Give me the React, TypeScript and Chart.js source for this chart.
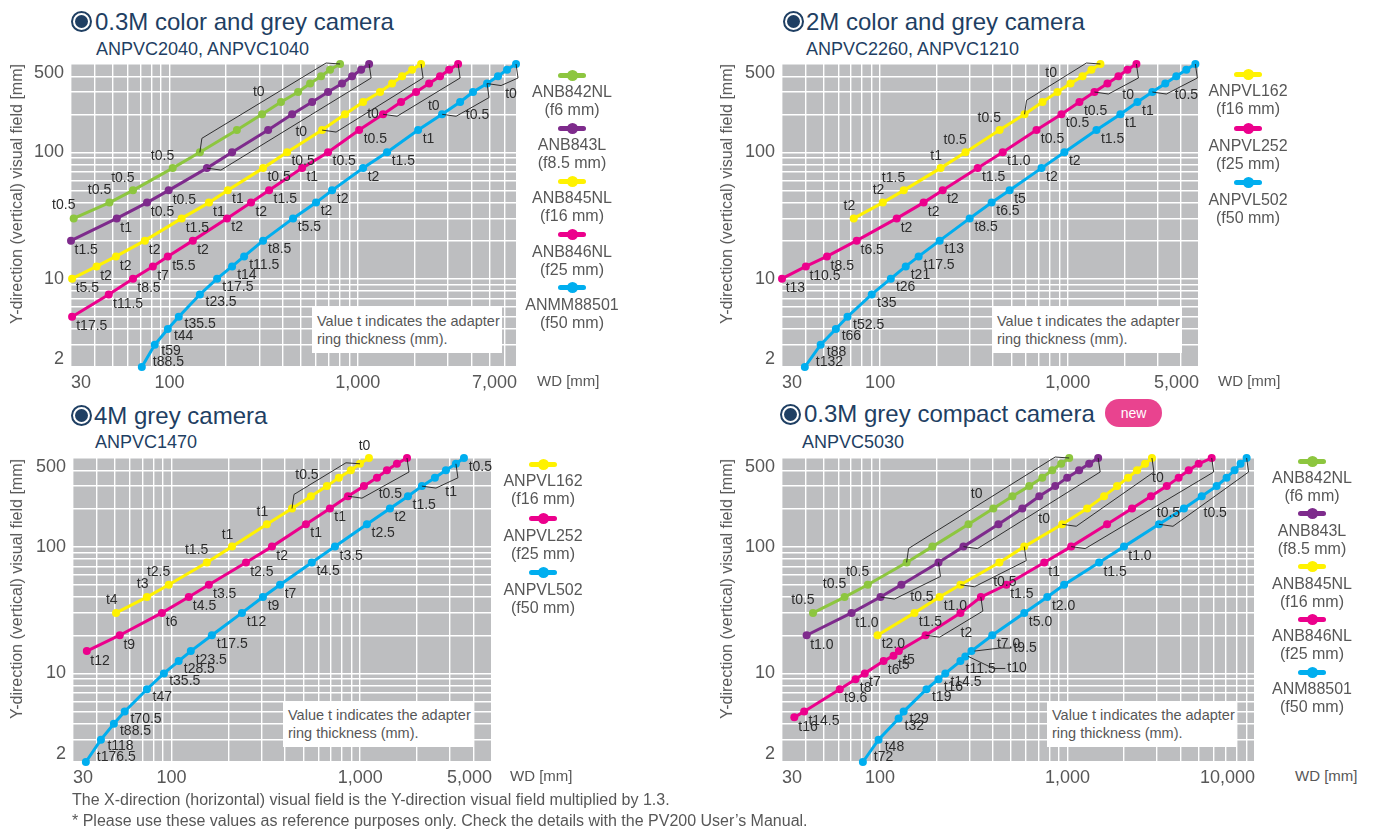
import React, { useEffect, useRef } from "react";
import { Chart, registerables } from "chart.js";

Chart.register(...registerables);

const FONT = "'Liberation Sans', Arial, Helvetica, sans-serif";
const NAVY = "#1f3f63";
const GREYTXT = "#575757";
const LABEL = "#2c2c2c";
const PLOT_BG = "#bdbec0";

const GREEN = "#8dc63f";
const PURPLE = "#7e2b8c";
const YELLOW = "#fff200";
const PINK = "#ec008c";
const BLUE = "#00aeef";

// ---------- shared y axis ----------
const Y_MIN = 2;
const Y_MAX = 500;
const Y_TICK_VALUES = [500, 100, 10, 2];
const Y_TICK_TEXT = ["500", "100", "10", "2"];

// ---------- Panel 1 : 0.3M color and grey camera ----------
const P1_X_TICK_VALUES = [30, 100, 1000, 7000];
const P1_X_TICK_TEXT = ["30", "100", "1,000", "7,000"];
const P1_GREEN_WD = [31, 48, 64, 104, 145, 228, 310, 391, 482, 558, 638, 712, 805];
const P1_GREEN_F = [30, 40, 50, 75, 100, 150, 200, 250, 300, 350, 400, 450, 500];
const P1_GREEN_T = ["t0.5", "t0.5", "t0.5", "t0.5"];
const P1_PURPLE_WD = [30, 52.5, 76, 99, 158, 215, 334, 448, 572, 695, 824, 932, 1041, 1148];
const P1_PURPLE_F = [20, 30, 40, 50, 75, 100, 150, 200, 250, 300, 350, 400, 450, 500];
const P1_PURPLE_T = ["t1.5", "t1", "t0.5", "t0.5"];
const P1_YELLOW_WD = [30.4, 41, 52, 74, 116, 162, 204, 314, 421, 646, 855, 1067, 1312, 1519, 1717, 1941, 2167];
const P1_YELLOW_F = [10, 12.5, 15, 20, 30, 40, 50, 75, 100, 150, 200, 250, 300, 350, 400, 450, 500];
const P1_YELLOW_T = ["t5.5", "t2", "t2", "t2", "t1.5", "t1", "t1", "t0.5", "t0.5"];
const P1_PINK_WD = [30.4, 47.6, 64, 81.6, 98, 133, 202, 271, 338, 506, 695, 1016, 1361, 1696, 2038, 2390, 2733, 3052, 3407];
const P1_PINK_F = [5, 7.5, 10, 12.5, 15, 20, 30, 40, 50, 75, 100, 150, 200, 250, 300, 350, 400, 450, 500];
const P1_PINK_T = ["t17.5", "t11.5", "t8.5", "t7", "t5.5", "t2", "t2", "t2", "t1.5", "t1", "t0.5", "t0.5"];
const P1_BLUE_WD = [71.3, 83.5, 98, 112, 145, 179, 215, 249, 314, 453, 600, 730, 1067, 1430, 2089, 2801, 3492, 4089, 4853, 5548, 6195, 6917];
const P1_BLUE_F = [2, 3, 4, 5, 7.5, 10, 12.5, 15, 20, 30, 40, 50, 75, 100, 150, 200, 250, 300, 350, 400, 450, 500];
const P1_BLUE_T = ["t88.5", "t59", "t44", "t35.5", "t23.5", "t17.5", "t14", "t11.5", "t8.5", "t5.5", "t2", "t2", "t2", "t1.5", "t1"];

// ---------- Panel 2 : 2M color and grey camera ----------
const P2_X_TICK_VALUES = [30, 100, 1000, 5000];
const P2_X_TICK_TEXT = ["30", "100", "1,000", "5,000"];
const P2_YELLOW_WD = [72.3, 103.3, 133.6, 210, 285, 433, 588, 733, 881, 1033, 1197, 1336, 1492];
const P2_YELLOW_F = [30, 40, 50, 75, 100, 150, 200, 250, 300, 350, 400, 450, 500];
const P2_YELLOW_T = ["t2", "t2", "t1.5", "t1", "t0.5", "t0.5"];
const P2_PINK_WD = [30, 40.2, 52.1, 75, 122.6, 170.5, 215.4, 331, 450, 681, 925, 1153, 1386, 1626, 1861, 2078, 2320];
const P2_PINK_F = [10, 12.5, 15, 20, 30, 40, 50, 75, 100, 150, 200, 250, 300, 350, 400, 450, 500];
const P2_PINK_T = ["t13", "t10.5", "t8.5", "t6.5", "t2", "t2", "t2", "t1.5", "t1.0", "t0.5", "t0.5", "t0.5"];
const P2_BLUE_WD = [39.7, 48.2, 58.1, 67, 90.2, 114, 136.9, 160.4, 207.6, 300, 392.8, 490, 724, 959, 1421, 1907, 2349, 2820, 3307, 3785, 4280, 4782];
const P2_BLUE_F = [2, 3, 4, 5, 7.5, 10, 12.5, 15, 20, 30, 40, 50, 75, 100, 150, 200, 250, 300, 350, 400, 450, 500];
const P2_BLUE_T = ["t132", "t88", "t66", "t52.5", "t35", "t26", "t21", "t17.5", "t13", "t8.5", "t6.5", "t5", "t2", "t2", "t1.5", "t1", "t1"];

// ---------- Panel 3 : 4M grey camera ----------
const P3_X_TICK_VALUES = [30, 100, 1000, 5000];
const P3_X_TICK_TEXT = ["30", "100", "1,000", "5,000"];
const P3_YELLOW_WD = [50.7, 74, 96.6, 153.8, 209, 320, 435, 548, 666, 771, 893, 997, 1113];
const P3_YELLOW_F = [30, 40, 50, 75, 100, 150, 200, 250, 300, 350, 400, 450, 500];
const P3_YELLOW_T = ["t4", "t3", "t2.5", "t1.5", "t1", "t1", "", "", "", "", "", "", "t0"];
const P3_PINK_WD = [35.5, 53.1, 88.8, 123.3, 157.6, 248, 340.5, 515.5, 691, 861, 1047, 1227, 1386, 1566, 1771];
const P3_PINK_F = [15, 20, 30, 40, 50, 75, 100, 150, 200, 250, 300, 350, 400, 450, 500];
const P3_PINK_T = ["t12", "t9", "t6", "t4.5", "t3.5", "t2.5", "t2", "t1", "t1"];
const P3_BLUE_WD = [35.1, 42.2, 49.4, 56.4, 74, 91, 109, 126.4, 163.5, 236, 305, 376, 554, 735, 1086, 1438, 1792, 2125, 2490, 2849, 3218, 3550];
const P3_BLUE_F = [2, 3, 4, 5, 7.5, 10, 12.5, 15, 20, 30, 40, 50, 75, 100, 150, 200, 250, 300, 350, 400, 450, 500];
const P3_BLUE_T = ["t176.5", "t118", "t88.5", "t70.5", "t47", "t35.5", "t28.5", "t23.5", "t17.5", "t12", "t9", "t7", "t4.5", "t3.5", "t2.5", "t2", "t1.5", "", "", "", "", "t0.5"];

// ---------- Panel 4 : 0.3M grey compact camera ----------
const P4_X_TICK_VALUES = [30, 100, 1000, 10000];
const P4_X_TICK_TEXT = ["30", "100", "1,000", "10,000"];
const P4_GREEN_WD = [43.9, 64.7, 86, 138.6, 190.2, 296.4, 402, 508, 625, 733, 829, 925, 1021];
const P4_GREEN_F = [30, 40, 50, 75, 100, 150, 200, 250, 300, 350, 400, 450, 500];
const P4_GREEN_T = ["t0.5", "t0.5", "t0.5"];
const P4_PURPLE_WD = [40.6, 70.5, 100.6, 130, 205, 278.6, 428, 574, 707, 860, 996, 1153, 1304, 1457];
const P4_PURPLE_F = [20, 30, 40, 50, 75, 100, 150, 200, 250, 300, 350, 400, 450, 500];
const P4_PURPLE_T = ["t1.0", "t1.0"];
const P4_YELLOW_WD = [97, 152.6, 207.6, 268.5, 433, 588, 937, 1273, 1567, 1838, 2103, 2349, 2593, 2820];
const P4_YELLOW_F = [20, 30, 40, 50, 75, 100, 150, 200, 250, 300, 350, 400, 450, 500];
const P4_YELLOW_T = ["t2.0", "t1.5", "t1.0"];
const P4_PINK_WD = [34.9, 39.4, 61, 74, 82.9, 104.4, 118, 126, 175, 268.5, 345, 472, 752, 1046, 1626, 2208, 2788, 3383, 3915, 4430, 5008, 5875];
const P4_PINK_F = [4.5, 5, 7.5, 9, 10, 12.5, 13.8, 15, 20, 30, 40, 50, 75, 100, 150, 200, 250, 300, 350, 400, 450, 500];
const P4_PINK_T = ["t16", "t14.5", "t9.6", "t8", "t7", "t6", "t5", "t5", "", "", "", "t1.5", "t1"];
const P4_BLUE_WD = [81, 98.2, 125.6, 133.6, 177, 205, 223, 268.5, 285, 307.4, 397, 588, 780, 959, 1474, 2001, 3074, 4178, 5197, 6240, 7053, 7780, 8375, 9022];
const P4_BLUE_F = [2, 3, 4.4, 5, 7.5, 9, 10, 12.5, 13.6, 15, 20, 30, 40, 50, 75, 100, 150, 200, 250, 300, 350, 400, 450, 500];
const P4_BLUE_T = ["t72", "t48", "t32", "t29", "t19", "t16", "t14.5", "t11.5", "", "", "t7.0", "t5.0", "t2.0", "", "t1.5", "t1.0"];

// ---------- texts ----------
const NOTE_LINES = ["Value t indicates the adapter", "ring thickness (mm)."];
const Y_TITLE = "Y-direction (vertical) visual field [mm]";
const X_TITLE = "WD [mm]";
const FOOTER_1 = "The X-direction (horizontal) visual field is the Y-direction visual field multiplied by 1.3.";
const FOOTER_2 = "* Please use these values as reference purposes only. Check the details with the PV200 User\u2019s Manual.";

type Series = { label: string; focal: string; color: string; wd: number[]; f: number[]; t: string[]; side: string };
type Bracket = { s: number; from: number; to: number; side: string; text: string; at: number; dist: number };
type Callout = { s: number; i: number; text: string; dx: number; dy: number };
type PanelCfg = {
  title: string; subtitle: string; badge?: boolean;
  titlePos: { icx: number; cy: number; tx: number; sx: number; sy: number };
  plot: { l: number; t: number; r: number; b: number };
  xMax: number; xTicks: number[]; xText: string[];
  series: Series[]; brackets: Bracket[]; callouts: Callout[];
  legend: { cx: number; y: number; step: number };
  note: { l: number; t: number; w: number; h: number };
  wd: { l: number; y: number };
  ytitle: { x: number; y: number };
};

const bk = (s: number, from: number, to: number, side: string, text: string, at = 0.5, dist = 10): Bracket => ({ s, from, to, side, text, at, dist });

const PANELS: PanelCfg[] = [
  {
    title: "0.3M color and grey camera", subtitle: "ANPVC2040, ANPVC1040",
    titlePos: { icx: 81.5, cy: 21.5, tx: 95, sx: 96, sy: 49 },
    plot: { l: 71, t: 64, r: 517, b: 367 }, xMax: 7000, xTicks: P1_X_TICK_VALUES, xText: P1_X_TICK_TEXT,
    series: [
      { label: "ANB842NL", focal: "(f6 mm)", color: GREEN, wd: P1_GREEN_WD, f: P1_GREEN_F, t: P1_GREEN_T, side: "al" },
      { label: "ANB843L", focal: "(f8.5 mm)", color: PURPLE, wd: P1_PURPLE_WD, f: P1_PURPLE_F, t: P1_PURPLE_T, side: "br" },
      { label: "ANB845NL", focal: "(f16 mm)", color: YELLOW, wd: P1_YELLOW_WD, f: P1_YELLOW_F, t: P1_YELLOW_T, side: "br" },
      { label: "ANB846NL", focal: "(f25 mm)", color: PINK, wd: P1_PINK_WD, f: P1_PINK_F, t: P1_PINK_T, side: "br" },
      { label: "ANMM88501", focal: "(f50 mm)", color: BLUE, wd: P1_BLUE_WD, f: P1_BLUE_F, t: P1_BLUE_T, side: "br" },
    ],
    brackets: [bk(0, 4, 12, "al", "t0"), bk(1, 4, 13, "br", "t0"), bk(2, 9, 16, "br", "t0", 0.4, 4), bk(3, 12, 18, "br", "t0"), bk(4, 15, 18, "br", "t0.5"), bk(4, 18, 21, "br", "t0", 0.3, 12)],
    callouts: [],
    legend: { cx: 572, y: 75, step: 53.2 },
    note: { l: 312, t: 307, w: 190, h: 46 },
    wd: { l: 537, y: 381 },
    ytitle: { x: 17, y: 194 },
  },
  {
    title: "2M color and grey camera", subtitle: "ANPVC2260, ANPVC1210",
    titlePos: { icx: 793, cy: 21.5, tx: 806, sx: 806, sy: 49 },
    plot: { l: 782, t: 64, r: 1199, b: 367 }, xMax: 5000, xTicks: P2_X_TICK_VALUES, xText: P2_X_TICK_TEXT,
    series: [
      { label: "ANPVL162", focal: "(f16 mm)", color: YELLOW, wd: P2_YELLOW_WD, f: P2_YELLOW_F, t: P2_YELLOW_T, side: "al" },
      { label: "ANPVL252", focal: "(f25 mm)", color: PINK, wd: P2_PINK_WD, f: P2_PINK_F, t: P2_PINK_T, side: "br" },
      { label: "ANPVL502", focal: "(f50 mm)", color: BLUE, wd: P2_BLUE_WD, f: P2_BLUE_F, t: P2_BLUE_T, side: "br" },
    ],
    brackets: [bk(0, 6, 12, "al", "t0"), bk(1, 12, 16, "br", "t0"), bk(2, 17, 21, "br", "t0.5")],
    callouts: [],
    legend: { cx: 1248, y: 74.3, step: 54.2 },
    note: { l: 992, t: 307, w: 190, h: 46 },
    wd: { l: 1218, y: 381 },
    ytitle: { x: 727, y: 194 },
  },
  {
    title: "4M grey camera", subtitle: "ANPVC1470",
    titlePos: { icx: 81.5, cy: 415.5, tx: 94, sx: 95, sy: 442 },
    plot: { l: 73, t: 458, r: 492, b: 762 }, xMax: 5000, xTicks: P3_X_TICK_VALUES, xText: P3_X_TICK_TEXT,
    series: [
      { label: "ANPVL162", focal: "(f16 mm)", color: YELLOW, wd: P3_YELLOW_WD, f: P3_YELLOW_F, t: P3_YELLOW_T, side: "al" },
      { label: "ANPVL252", focal: "(f25 mm)", color: PINK, wd: P3_PINK_WD, f: P3_PINK_F, t: P3_PINK_T, side: "br" },
      { label: "ANPVL502", focal: "(f50 mm)", color: BLUE, wd: P3_BLUE_WD, f: P3_BLUE_F, t: P3_BLUE_T, side: "br" },
    ],
    brackets: [bk(0, 6, 11, "al", "t0.5", 0.35, 10), bk(1, 9, 14, "br", "t0.5"), bk(2, 17, 20, "br", "t1")],
    callouts: [],
    legend: { cx: 543, y: 464.3, step: 54.2 },
    note: { l: 283, t: 701, w: 190, h: 46 },
    wd: { l: 510, y: 776 },
    ytitle: { x: 17, y: 589 },
  },
  {
    title: "0.3M grey compact camera", subtitle: "ANPVC5030", badge: true,
    titlePos: { icx: 790.5, cy: 414, tx: 804, sx: 802, sy: 442 },
    plot: { l: 782, t: 458, r: 1255, b: 762 }, xMax: 10000, xTicks: P4_X_TICK_VALUES, xText: P4_X_TICK_TEXT,
    series: [
      { label: "ANB842NL", focal: "(f6 mm)", color: GREEN, wd: P4_GREEN_WD, f: P4_GREEN_F, t: P4_GREEN_T, side: "al" },
      { label: "ANB843L", focal: "(f8.5 mm)", color: PURPLE, wd: P4_PURPLE_WD, f: P4_PURPLE_F, t: P4_PURPLE_T, side: "br" },
      { label: "ANB845NL", focal: "(f16 mm)", color: YELLOW, wd: P4_YELLOW_WD, f: P4_YELLOW_F, t: P4_YELLOW_T, side: "br" },
      { label: "ANB846NL", focal: "(f25 mm)", color: PINK, wd: P4_PINK_WD, f: P4_PINK_F, t: P4_PINK_T, side: "br" },
      { label: "ANM88501", focal: "(f50 mm)", color: BLUE, wd: P4_BLUE_WD, f: P4_BLUE_F, t: P4_BLUE_T, side: "br" },
    ],
    brackets: [bk(0, 3, 12, "al", "t0"), bk(1, 2, 4, "br", "t0.5"), bk(1, 5, 13, "br", "t0"), bk(2, 3, 5, "br", "t0.5"), bk(2, 6, 13, "br", "t0", 1.0, 7), bk(3, 8, 10, "br", "t2"), bk(3, 13, 21, "br", "t0.5", 0.6, 12), bk(4, 16, 23, "br", "t0.5", 0.45, 14)],
    callouts: [{ s: 4, i: 8, text: "t10", dx: 40, dy: 12 }, { s: 4, i: 9, text: "t9.5", dx: 40, dy: -3 }],
    legend: { cx: 1312, y: 461, step: 52.8 },
    note: { l: 1047, t: 701, w: 190, h: 46 },
    wd: { l: 1295, y: 776 },
    ytitle: { x: 727, y: 589 },
  },
];

function logGrid(min: number, max: number): number[] {
  const out: number[] = [];
  for (let e = -1; e <= 5; e++) {
    for (let k = 1; k <= 9; k++) {
      const v = k * Math.pow(10, e);
      if (v >= min * 0.9999 && v <= max * 1.0001) out.push(v);
    }
  }
  return out;
}

type P = { x: number; y: number };

function placeLabel(ctx: CanvasRenderingContext2D, pts: P[], i: number, txt: string, code: string) {
  const p = pts[i];
  const a = pts[Math.max(0, i - 1)];
  const c = pts[Math.min(pts.length - 1, i + 1)];
  let dx = c.x - a.x, dy = c.y - a.y;
  const L = Math.hypot(dx, dy) || 1;
  dx /= L; dy /= L;
  const nx = -dy, ny = dx;
  if (code === "al") {
    ctx.textAlign = "right";
    ctx.fillText(txt, p.x + 3 - nx * 3, p.y - ny * 13 - 1);
  } else if (i === 0 && Math.abs(dy) > 0.75) {
    // first point of a steep curve: label sits to the right, slightly above
    ctx.textAlign = "left";
    ctx.fillText(txt, p.x + 11, p.y - 5);
  } else {
    ctx.textAlign = "left";
    ctx.fillText(txt, p.x + nx * 8, p.y + ny * 11);
  }
}

function PanelChart({ cfg }: { cfg: PanelCfg }) {
  const ref = useRef<HTMLCanvasElement>(null);
  const { l, t, r, b } = cfg.plot;
  const PADL = 70, PADT = 22, PADR = 24, PADB = 32;
  const W = r - l + PADL + PADR;
  const H = b - t + PADT + PADB;

  useEffect(() => {
    const canvas = ref.current;
    if (!canvas) return;
    const xGrid = logGrid(30, cfg.xMax);
    const yGrid = logGrid(Y_MIN, Y_MAX);

    const overlay = {
      id: "overlay",
      beforeDraw(chart: any) {
        const { ctx, chartArea: a } = chart;
        ctx.save();
        ctx.fillStyle = PLOT_BG;
        ctx.fillRect(a.left, a.top, a.right - a.left, a.bottom - a.top);
        ctx.restore();
      },
      afterDatasetsDraw(chart: any) {
        const ctx: CanvasRenderingContext2D = chart.ctx;
        const all: P[][] = cfg.series.map((_, si) => chart.getDatasetMeta(si).data.map((e: any) => ({ x: e.x, y: e.y })));
        ctx.save();
        ctx.strokeStyle = "#1e1e1e";
        ctx.lineWidth = 0.9;
        ctx.font = `14px ${FONT}`;
        ctx.fillStyle = LABEL;
        ctx.textBaseline = "middle";
        cfg.brackets.forEach((k) => {
          const pts = all[k.s];
          const A = pts[k.from], D = pts[k.to];
          const off = 14;
          let B: P, C: P;
          if (k.side === "al") {
            B = { x: A.x + 2, y: A.y - off };
            C = { x: D.x - off, y: D.y - 1 };
          } else {
            B = { x: A.x + off, y: A.y + 2 };
            C = { x: D.x + 2, y: D.y + off };
          }
          ctx.beginPath();
          ctx.moveTo(A.x, A.y);
          ctx.lineTo(B.x, B.y);
          ctx.lineTo(C.x, C.y);
          ctx.lineTo(D.x, D.y);
          ctx.stroke();
          const ux = C.x - B.x, uy = C.y - B.y;
          const L = Math.hypot(ux, uy) || 1;
          let nx = -uy / L, ny = ux / L;
          if (k.side === "al") { nx = -nx; ny = -ny; }
          ctx.textAlign = "center";
          ctx.fillText(k.text, B.x + ux * k.at + nx * k.dist, B.y + uy * k.at + ny * k.dist);
        });
        cfg.callouts.forEach((c) => {
          const p = all[c.s][c.i];
          ctx.beginPath();
          ctx.moveTo(p.x + 3, p.y);
          ctx.lineTo(p.x + c.dx - 12, p.y + c.dy);
          ctx.lineTo(p.x + c.dx, p.y + c.dy);
          ctx.stroke();
          ctx.textAlign = "left";
          ctx.fillText(c.text, p.x + c.dx + 2, p.y + c.dy);
        });
        cfg.series.forEach((s, si) => {
          s.t.forEach((txt, i) => {
            if (!txt) return;
            placeLabel(ctx, all[si], i, txt, s.side);
          });
        });
        ctx.restore();
      },
      afterDraw(chart: any) {
        const ctx: CanvasRenderingContext2D = chart.ctx;
        const a = chart.chartArea;
        const ys = chart.scales.y;
        ctx.save();
        ctx.font = `18px ${FONT}`;
        ctx.fillStyle = GREYTXT;
        ctx.textAlign = "right";
        ctx.textBaseline = "middle";
        Y_TICK_VALUES.forEach((v, i) => {
          let y = ys.getPixelForValue(v);
          y = Math.min(Math.max(y, a.top + 9), a.bottom - 8);
          ctx.fillText(Y_TICK_TEXT[i], a.left - 7, y);
        });
        ctx.restore();
      },
    };

    const chart = new Chart(canvas, {
      type: "scatter",
      data: {
        datasets: cfg.series.map((s) => ({
          label: s.label,
          data: s.wd.map((x, i) => ({ x, y: s.f[i] })),
          showLine: true,
          borderColor: s.color,
          backgroundColor: s.color,
          pointBackgroundColor: s.color,
          pointBorderWidth: 0,
          pointRadius: 4,
          borderWidth: 3,
          tension: 0,
          clip: false as any,
        })),
      },
      options: {
        animation: false,
        responsive: false,
        maintainAspectRatio: false,
        devicePixelRatio: 1,
        events: [],
        layout: { padding: { left: 0, top: PADT, right: PADR, bottom: 0 } },
        plugins: { legend: { display: false }, tooltip: { enabled: false }, title: { display: false } },
        scales: {
          x: {
            type: "logarithmic",
            position: "bottom",
            min: 30,
            max: cfg.xMax,
            afterBuildTicks: (sc: any) => { sc.ticks = xGrid.map((v) => ({ value: v })); },
            afterFit: (sc: any) => { sc.height = PADB; },
            grid: { color: "#ffffff", lineWidth: 1.4, drawTicks: false },
            border: { display: false },
            ticks: {
              autoSkip: false,
              maxRotation: 0,
              minRotation: 0,
              align: "inner",
              padding: 5,
              color: GREYTXT,
              font: { family: FONT, size: 18 },
              callback: (v: any) => {
                const idx = cfg.xTicks.findIndex((x) => Math.abs(x - Number(v)) / x < 1e-6);
                return idx >= 0 ? cfg.xText[idx] : "";
              },
            },
          },
          y: {
            type: "logarithmic",
            position: "left",
            min: Y_MIN,
            max: Y_MAX,
            afterBuildTicks: (sc: any) => { sc.ticks = yGrid.map((v) => ({ value: v })); },
            afterFit: (sc: any) => { sc.width = PADL; },
            grid: { color: "#ffffff", lineWidth: 1.4, drawTicks: false },
            border: { display: false },
            ticks: { display: false },
          },
        },
      } as any,
      plugins: [overlay as any],
    });
    return () => chart.destroy();
  }, [cfg]);

  return (
    <canvas
      ref={ref}
      width={W}
      height={H}
      style={{ position: "absolute", left: l - PADL, top: t - PADT, width: W, height: H }}
    />
  );
}

function Title({ cfg }: { cfg: PanelCfg }) {
  const tp = cfg.titlePos;
  return (
    <>
      <div style={{ position: "absolute", left: tp.icx - 10.5, top: tp.cy - 10.5, width: 21, height: 21, borderRadius: "50%", border: `2px solid ${NAVY}`, boxSizing: "border-box" }}>
        <div style={{ position: "absolute", left: 2, top: 2, width: 13, height: 13, borderRadius: "50%", background: NAVY }} />
      </div>
      <div style={{ position: "absolute", left: tp.tx, top: tp.cy - 14, fontSize: 24, lineHeight: "28px", color: NAVY, whiteSpace: "nowrap" }}>{cfg.title}</div>
      <div style={{ position: "absolute", left: tp.sx, top: tp.sy - 11, fontSize: 18, lineHeight: "22px", color: NAVY, whiteSpace: "nowrap" }}>{cfg.subtitle}</div>
    </>
  );
}

function Legend({ cfg }: { cfg: PanelCfg }) {
  const { cx, y, step } = cfg.legend;
  return (
    <>
      {cfg.series.map((s, i) => {
        const my = y + i * step;
        return (
          <React.Fragment key={s.label + i}>
            <div style={{ position: "absolute", left: cx - 14, top: my - 2.5, width: 28, height: 5, background: s.color, borderRadius: 2.5 }} />
            <div style={{ position: "absolute", left: cx - 5.5, top: my - 5.5, width: 11, height: 11, borderRadius: "50%", background: s.color }} />
            <div style={{ position: "absolute", left: cx - 80, top: my + 17 - 10, width: 160, textAlign: "center", fontSize: 16, lineHeight: "20px", color: GREYTXT }}>{s.label}</div>
            <div style={{ position: "absolute", left: cx - 80, top: my + 35 - 10, width: 160, textAlign: "center", fontSize: 16, lineHeight: "20px", color: GREYTXT }}>{s.focal}</div>
          </React.Fragment>
        );
      })}
    </>
  );
}

function Panel({ cfg }: { cfg: PanelCfg }) {
  return (
    <>
      <Title cfg={cfg} />
      <PanelChart cfg={cfg} />
      <div style={{ position: "absolute", left: cfg.note.l, top: cfg.note.t, width: cfg.note.w, height: cfg.note.h, background: "#ffffff", boxSizing: "border-box", padding: "5px 0 0 5px", fontSize: 14.5, lineHeight: "18px", color: GREYTXT, whiteSpace: "nowrap" }}>
        <div>{NOTE_LINES[0]}</div>
        <div>{NOTE_LINES[1]}</div>
      </div>
      <div style={{ position: "absolute", left: cfg.wd.l, top: cfg.wd.y - 9, fontSize: 15, lineHeight: "18px", color: GREYTXT, whiteSpace: "nowrap" }}>{X_TITLE}</div>
      <div style={{ position: "absolute", left: cfg.ytitle.x, top: cfg.ytitle.y, transform: "translate(-50%, -50%) rotate(-90deg)", fontSize: 16, lineHeight: "18px", color: GREYTXT, whiteSpace: "nowrap" }}>{Y_TITLE}</div>
      <Legend cfg={cfg} />
      {cfg.badge ? (
        <div style={{ position: "absolute", left: 1105, top: 399, width: 57, height: 28, borderRadius: 14, background: "#e9438f", color: "#ffffff", fontSize: 14, lineHeight: "28px", textAlign: "center" }}>new</div>
      ) : null}
    </>
  );
}

export default function App() {
  return (
    <div style={{ position: "absolute", left: 0, top: 0, width: 1375, height: 830, background: "#ffffff", fontFamily: FONT, overflow: "hidden" }}>
      {PANELS.map((p, i) => (
        <Panel key={i} cfg={p} />
      ))}
      <div style={{ position: "absolute", left: 72, top: 790, fontSize: 16, lineHeight: "20px", color: GREYTXT, whiteSpace: "nowrap" }}>{FOOTER_1}</div>
      <div style={{ position: "absolute", left: 72, top: 811, fontSize: 16, lineHeight: "20px", color: GREYTXT, whiteSpace: "nowrap" }}>{FOOTER_2}</div>
    </div>
  );
}
